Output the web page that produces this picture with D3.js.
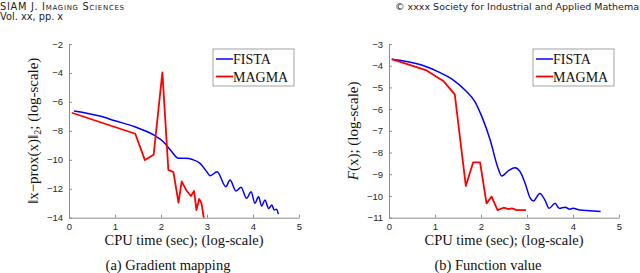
<!DOCTYPE html>
<html>
<head>
<meta charset="utf-8">
<script src="https://d3js.org/d3.v7.min.js"></script>
<style>
  body { margin: 0; background: #fff; }
  svg { display: block; }
  .tick text { font-family: "Liberation Sans", Arial, sans-serif; font-size: 9.5px; fill: #262626; }
  .domain, .tick line { stroke: #8c8c8c; }
  .lab { font-family: "Liberation Serif", "Times New Roman", serif; fill: #111; }
  .hdr { font-family: "DejaVu Sans", sans-serif; fill: #222; font-size: 9.8px; }
</style>
</head>
<body>
<div id="chart"></div>
<script>
// CPU time (log-scale) readings
var gradFistaX = [0.11, 0.67, 1.0, 1.43, 1.85, 2.05, 2.2, 2.38, 2.52, 2.7, 2.85, 2.99, 3.07, 3.22, 3.41, 3.5, 3.63, 3.74, 3.86, 3.96, 4.04, 4.12, 4.19, 4.26, 4.34, 4.41, 4.46, 4.51, 4.55];
var gradFistaY = [-6.63, -6.98, -7.3, -7.72, -8.3, -8.75, -9.3, -9.9, -9.9, -10.0, -10.25, -10.8, -11.1, -10.83, -11.86, -11.4, -12.16, -11.9, -12.66, -12.2, -13.0, -12.55, -13.2, -12.78, -13.36, -13.13, -13.47, -13.42, -13.75];
var gradMagmaX = [0.06, 1.44, 1.65, 1.84, 2.03, 2.16, 2.27, 2.38, 2.45, 2.55, 2.65, 2.72, 2.77, 2.83, 2.88, 2.96];
var gradMagmaY = [-6.75, -8.2, -10.02, -9.65, -3.96, -10.7, -10.85, -12.95, -11.5, -12.1, -12.5, -12.16, -13.47, -12.7, -13.0, -14.6];

var funcFistaX = [0.06, 0.71, 1.11, 1.4, 1.69, 1.87, 2.01, 2.2, 2.36, 2.45, 2.6, 2.74, 2.85, 2.96, 3.07, 3.14, 3.28, 3.39, 3.48, 3.61, 3.7, 3.83, 3.93, 4.0, 4.15, 4.37, 4.6];
var funcFistaY = [-3.7, -3.97, -4.32, -4.66, -5.2, -5.66, -6.3, -7.42, -8.65, -9.08, -8.83, -8.7, -8.88, -9.42, -10.1, -10.23, -9.88, -10.19, -10.57, -10.34, -10.57, -10.52, -10.61, -10.57, -10.65, -10.68, -10.72];
var funcMagmaX = [0.06, 0.8, 1.18, 1.43, 1.67, 1.83, 1.98, 2.12, 2.23, 2.36, 2.49, 2.6, 2.67, 2.78, 2.98];
var funcMagmaY = [-3.7, -4.2, -4.7, -5.32, -9.54, -8.45, -8.45, -10.34, -10.03, -10.65, -10.54, -10.61, -10.57, -10.65, -10.65];

var xTicks = [0, 1, 2, 3, 4, 5];
var gradTicks = [-14, -12, -10, -8, -6, -4, -2];
var funcTicks = [-11, -10, -9, -8, -7, -6, -5, -4, -3];
var seriesNames = ["FISTA", "MAGMA"];
var seriesColors = ["#0000ff", "#ff0000"];

var W = 640, H = 273;
var svg = d3.select("#chart").append("svg").attr("width", W).attr("height", H);

// page header (the right line is cut by the page edge in the original)
svg.append("text").attr("class", "hdr").attr("x", 0).attr("y", 9.5)
    .style("font-variant", "small-caps").style("letter-spacing", "0.7px")
    .text("SIAM J. Imaging Sciences");
svg.append("text").attr("class", "hdr").attr("x", 0).attr("y", 19.5).text("Vol. xx, pp. x");
svg.append("text").attr("class", "hdr").attr("x", 639).attr("y", 9.5)
    .attr("text-anchor", "end").style("font-size", "9.5px")
    .text("\u00a9 xxxx Society for Industrial and Applied Mathema");

function panel(opt) {
    var left = opt.left, top = 44, w = 230, h = 173.7;
    var g = svg.append("g").attr("transform", "translate(" + left + "," + top + ")");
    var x = d3.scaleLinear().domain([0, 5]).range([0, w]);
    var y = d3.scaleLinear().domain(opt.yDomain).range([h, 0]);

    var clipId = "clip" + opt.id;
    g.append("clipPath").attr("id", clipId).append("rect")
        .attr("x", 0).attr("y", 0).attr("width", w).attr("height", h);

    g.append("g").attr("transform", "translate(0," + h + ")")
        .call(d3.axisBottom(x).tickValues(xTicks).tickFormat(d3.format("d"))
            .tickSizeInner(-3).tickSizeOuter(0).tickPadding(6));
    g.append("g")
        .call(d3.axisLeft(y).tickValues(opt.yTicks).tickFormat(d3.format("d"))
            .tickSizeInner(-3).tickSizeOuter(0).tickPadding(6));

    opt.series.forEach(function (s, i) {
        var pts = d3.zip(s[0], s[1]);
        // FISTA oscillates smoothly, MAGMA is piecewise
        var line = d3.line()
            .curve(i === 0 ? d3.curveMonotoneX : d3.curveLinear)
            .x(function (d) { return x(d[0]); })
            .y(function (d) { return y(d[1]); });
        g.append("path").datum(pts)
            .attr("clip-path", "url(#" + clipId + ")")
            .attr("fill", "none")
            .attr("stroke", seriesColors[i])
            .attr("stroke-width", i === 0 ? 1.5 : 1.8)
            .attr("stroke-linejoin", "round")
            .attr("d", line);
    });

    // legend
    var lg = g.append("g").attr("transform", "translate(" + (w - 86) + ",5)");
    lg.append("rect").attr("width", 81).attr("height", 37)
        .attr("fill", "#fff").attr("stroke", "#8c8c8c").attr("stroke-width", 0.8);
    seriesNames.forEach(function (n, i) {
        var yy = 10 + i * 17.5;
        lg.append("line").attr("x1", 3).attr("x2", 20).attr("y1", yy).attr("y2", yy)
            .attr("stroke", seriesColors[i]).attr("stroke-width", i === 0 ? 1.5 : 1.8);
        lg.append("text").attr("class", "lab").attr("x", 20).attr("y", yy + 5)
            .style("font-size", "14px").text(n);
    });

    // axis titles
    g.append("text").attr("class", "lab").attr("x", w / 2).attr("y", h + 27)
        .attr("text-anchor", "middle").style("font-size", "14.5px")
        .text("CPU time (sec); (log-scale)");
    var yl = g.append("text").attr("class", "lab")
        .attr("transform", "translate(" + opt.yLabelX + "," + (h / 2) + ") rotate(-90)")
        .attr("text-anchor", "middle").style("font-size", "15px");
    opt.yLabel(yl);

    svg.append("text").attr("class", "lab").attr("x", opt.capX).attr("y", 269.5)
        .attr("text-anchor", "middle").style("font-size", "14.5px").text(opt.caption);
}

panel({
    id: "a", left: 69, yDomain: [-14, -2], yTicks: gradTicks,
    series: [[gradFistaX, gradFistaY], [gradMagmaX, gradMagmaY]],
    yLabelX: -31,
    yLabel: function (t) {
        t.append("tspan").text("\u2016x\u2212prox(x)\u2016");
        t.append("tspan").attr("dy", 3).style("font-size", "10px").text("2");
        t.append("tspan").attr("dy", -3).text("; (log-scale)");
    },
    capX: 168, caption: "(a) Gradient mapping"
});

panel({
    id: "b", left: 389, yDomain: [-11, -3], yTicks: funcTicks,
    series: [[funcFistaX, funcFistaY], [funcMagmaX, funcMagmaY]],
    yLabelX: -31,
    yLabel: function (t) {
        t.append("tspan").style("font-style", "italic").text("F");
        t.append("tspan").text("(x); (log-scale)");
    },
    capX: 488, caption: "(b) Function value"
});
</script>
</body>
</html>
